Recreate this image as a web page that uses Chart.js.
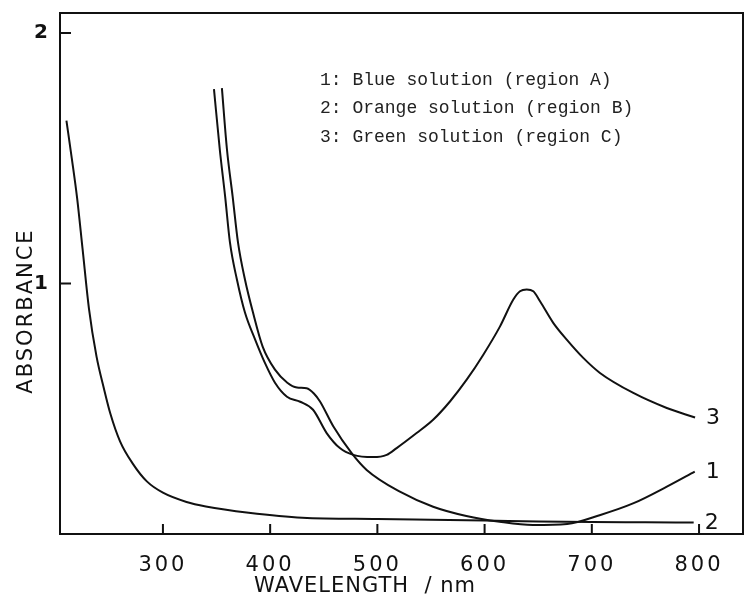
<!DOCTYPE html>
<html>
<head>
<meta charset="utf-8">
<script src="https://cdn.jsdelivr.net/npm/chart.js@4.4.1/dist/chart.umd.min.js"></script>
<style>
    html, body { margin: 0; padding: 0; background: #fff; }
</style>
</head>
<body>
<canvas id="canvas1" width="745" height="599"></canvas>
<script>
// values (wavelength in nm, absorbance)
const waveBlue = [355, 359.7, 365, 370, 376.5, 384, 393, 404.5, 416, 425, 434, 441, 446.5, 459, 476, 490, 521, 552, 583, 614, 645, 677, 708, 739, 770, 796];
const absBlue = [1.78, 1.536, 1.348, 1.164, 1.016, 0.884, 0.748, 0.656, 0.604, 0.585, 0.582, 0.56, 0.529, 0.429, 0.323, 0.256, 0.169, 0.109, 0.072, 0.049, 0.036, 0.040, 0.076, 0.123, 0.189, 0.249];

const waveOrange = [210, 215, 220, 225, 231, 238, 245, 251, 260, 272, 285, 300, 322, 340, 380, 430, 500, 550, 600, 650, 700, 750, 795];
const absOrange = [1.65, 1.50, 1.34, 1.14, 0.90, 0.71, 0.58, 0.48, 0.37, 0.28, 0.21, 0.165, 0.128, 0.11, 0.085, 0.065, 0.06, 0.057, 0.054, 0.05, 0.048, 0.047, 0.046];

const waveGreen = [347.6, 353, 358, 362.5, 369, 376.5, 386, 395, 404.5, 415.7, 428, 440, 452.7, 465, 477.5, 496, 508.7, 518, 536.6, 552, 567.7, 583.3, 598.8, 614.4, 626.8, 633, 639.3, 645.4, 651.7, 664, 676.6, 692, 707.6, 738.7, 769.9, 796.3];
const absGreen = [1.776, 1.536, 1.348, 1.164, 1.016, 0.884, 0.776, 0.684, 0.604, 0.548, 0.528, 0.496, 0.403, 0.343, 0.316, 0.307, 0.316, 0.343, 0.403, 0.456, 0.529, 0.616, 0.716, 0.829, 0.936, 0.969, 0.976, 0.969, 0.929, 0.843, 0.776, 0.703, 0.643, 0.563, 0.503, 0.465];

const curveNumbers = ['1', '2', '3'];
const curveNames = ['Blue solution (region A)', 'Orange solution (region B)', 'Green solution (region C)'];
const xTicks = [300, 400, 500, 600, 700, 800];
const yTicks = [1, 2];

function toPoints(xs, ys) {
    return xs.map((x, i) => ({ x: x, y: ys[i] }));
}

function makeSet(num, name, xs, ys) {
    return {
        label: num + ': ' + name,
        data: toPoints(xs, ys),
        borderColor: '#111',
        borderWidth: 2,
        pointRadius: 0,
        fill: false,
        cubicInterpolationMode: 'monotone'
    };
}

// frame, inward ticks, curve numbers, text legend and axis titles
const paperPlugin = {
    id: 'paper',
    beforeDraw(chart) {
        // the printed tick numbers are widely spaced
        chart.ctx.letterSpacing = '3px';
    },
    afterDraw(chart) {
        const ctx = chart.ctx;
        const a = chart.chartArea;
        const xs = chart.scales.x, ys = chart.scales.y;
        ctx.save();
        ctx.letterSpacing = '0px';
        ctx.strokeStyle = '#111';
        ctx.lineWidth = 2;
        ctx.strokeRect(a.left, a.top, a.right - a.left, a.bottom - a.top);
        ctx.beginPath();
        xTicks.forEach(v => {
            const p = xs.getPixelForValue(v);
            ctx.moveTo(p, a.bottom);
            ctx.lineTo(p, a.bottom - 10);
        });
        yTicks.forEach(v => {
            const p = ys.getPixelForValue(v);
            ctx.moveTo(a.left, p);
            ctx.lineTo(a.left + 11, p);
        });
        ctx.stroke();

        ctx.fillStyle = '#111';
        ctx.textBaseline = 'middle';
        ctx.textAlign = 'left';
        ctx.font = '22px "DejaVu Sans"';
        chart.data.datasets.forEach((ds, i) => {
            const last = ds.data[ds.data.length - 1];
            ctx.fillText(curveNumbers[i], xs.getPixelForValue(last.x) + 11, ys.getPixelForValue(last.y) + 1);
        });

        ctx.font = '18px "Liberation Mono"';
        ctx.fillStyle = '#222';
        chart.data.datasets.forEach((ds, i) => {
            ctx.fillText(ds.label, 320, 80 + i * 28.5);
        });

        ctx.fillStyle = '#111';
        ctx.font = '21px "DejaVu Sans"';
        ctx.textAlign = 'center';
        ctx.letterSpacing = '1px';
        ctx.fillText('WAVELENGTH  / nm', 365, 587);
        ctx.translate(27, 311);
        ctx.rotate(-Math.PI / 2);
        ctx.letterSpacing = '2px';
        ctx.fillText('ABSORBANCE', 0, 0);
        ctx.restore();
        ctx.letterSpacing = '0px';
    }
};

const config = {
    type: 'line',
    data: {
        datasets: [
            makeSet(curveNumbers[0], curveNames[0], waveBlue, absBlue),
            makeSet(curveNumbers[1], curveNames[1], waveOrange, absOrange),
            makeSet(curveNumbers[2], curveNames[2], waveGreen, absGreen)
        ]
    },
    options: {
        responsive: false,
        animation: false,
        layout: { padding: { top: 13, right: 2, left: 0, bottom: 0 } },
        scales: {
            x: {
                type: 'linear',
                min: 204,
                max: 841,
                afterBuildTicks: s => { s.ticks = xTicks.map(v => ({ value: v })); },
                afterFit: s => { s.height = 65; },
                grid: { display: false, drawTicks: false },
                border: { display: false },
                ticks: {
                    color: '#111',
                    padding: 19,
                    maxRotation: 0,
                    autoSkip: false,
                    font: { family: 'DejaVu Sans', size: 21 }
                }
            },
            y: {
                min: 0,
                max: 2.08,
                afterBuildTicks: s => { s.ticks = yTicks.map(v => ({ value: v })); },
                afterFit: s => {
                    s.width = 60;
                    // tick labels sit well inside the axis, no end padding needed
                    s.paddingTop = 0;
                    s.paddingBottom = 0;
                },
                grid: { display: false, drawTicks: false },
                border: { display: false },
                ticks: {
                    color: '#111',
                    padding: 9,
                    font: { family: 'DejaVu Sans', size: 20, weight: 'bold' }
                }
            }
        },
        plugins: {
            legend: { display: false },
            tooltip: { enabled: false }
        }
    },
    plugins: [paperPlugin]
};

const chart = new Chart(document.getElementById('canvas1'), config);
</script>
</body>
</html>
